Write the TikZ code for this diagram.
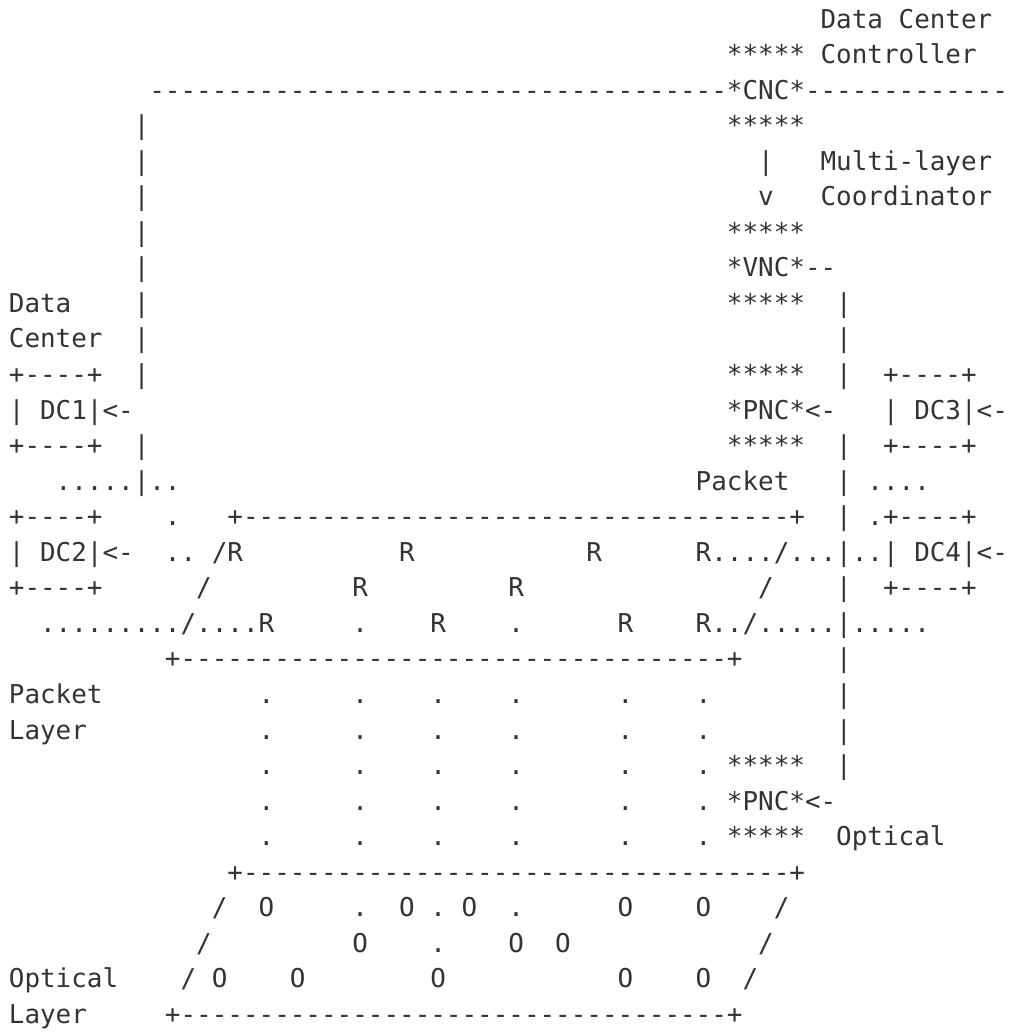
\documentclass[tikz,border=0pt]{standalone}
\usepackage{fontspec}
\setmonofont{DejaVu Sans Mono}
\ExplSyntaxOn
\cs_new:Npn \asciirun #1#2 { \prg_replicate:nn {#1} {#2} }
\ExplSyntaxOff
\tikzset{
    x=15.61pt, % one column of the character grid
    y=-35.55pt, % one text row, counted downwards
    ascii/.style={anchor=base west, inner sep=0pt, outer sep=0pt, text=black!80,
        font=\fontsize{25.93pt}{35.55pt}\selectfont\ttfamily}, % every piece of the drawing
}

\begin{document}
\begin{tikzpicture}
    \useasboundingbox (-0.570,-0.788) rectangle (64.196,28.242);
    % controller stack
    \node[ascii] (dcTitle) at (52,0) {Data Center};
    \node[ascii] (cncTop) at (46,1) {*****};
    \node[ascii] (ctrlLabel) at (52,1) {Controller};
    \node[ascii] (cncRuleL) at (9,2) {\asciirun{37}{-}};
    \node[ascii] (cnc) at (46,2) {*CNC*};
    \node[ascii] (cncRuleR) at (51,2) {\asciirun{13}{-}};
    \node[ascii] (cncBot) at (46,3) {*****};
    \node[ascii] (mlcShaft) at (48,4) {|};
    \node[ascii] (mlcLabelA) at (52,4) {Multi-layer};
    \node[ascii] (mlcHead) at (48,5) {v};
    \node[ascii] (mlcLabelB) at (52,5) {Coordinator};
    \node[ascii] (vncTop) at (46,6) {*****};
    \node[ascii] (vnc) at (46,7) {*VNC*--};
    \node[ascii] (vncBot) at (46,8) {*****};
    \node[ascii] (pncPTop) at (46,10) {*****};
    \node[ascii] (pncP) at (46,11) {*PNC*<-};
    \node[ascii] (pncPBot) at (46,12) {*****};
    % the two vertical trunks
    \foreach \r in {3,...,10,12}
        \node[ascii] (trunkL\r) at (8,\r) {|};
    \foreach \r in {8,9,10,12,13,14,16,18,19,20,21}
        \node[ascii] (trunkR\r) at (53,\r) {|};
    % data centers
    \node[ascii] (dcLabelA) at (0,8) {Data};
    \node[ascii] (dcLabelB) at (0,9) {Center};
    \node[ascii] (dc1Top) at (0,10) {+----+};
    \node[ascii] (dc1) at (0,11) {| DC1|<-};
    \node[ascii] (dc1Bot) at (0,12) {+----+};
    \node[ascii] (dc3Top) at (56,10) {+----+};
    \node[ascii] (dc3) at (56,11) {| DC3|<-};
    \node[ascii] (dc3Bot) at (56,12) {+----+};
    \node[ascii] (dc2Top) at (0,14) {+----+};
    \node[ascii] (dc2) at (0,15) {| DC2|<-};
    \node[ascii] (dc2Bot) at (0,16) {+----+};
    \node[ascii] (dc4Top) at (55,14) {.+----+};
    \node[ascii] (dc4) at (56,15) {| DC4|<-};
    \node[ascii] (dc4Bot) at (56,16) {+----+};
    % packet layer
    \node[ascii] (leakL) at (3,13) {.....|..};
    \node[ascii] (pktLabel) at (44,13) {Packet};
    \node[ascii] (leakR) at (55,13) {....};
    \node[ascii] (leakL2) at (10,14) {.};
    \node[ascii] (pktTop) at (14,14) {+\asciirun{35}{-}+};
    \node[ascii] (leakL3) at (10,15) {..};
    \node[ascii] (pktR1) at (13,15) {/R};
    \node[ascii] (pktR2) at (25,15) {R};
    \node[ascii] (pktR3) at (37,15) {R};
    \node[ascii] (pktR4) at (44,15) {R..../...|..};
    \node[ascii] (pktSideL) at (12,16) {/};
    \node[ascii] (pktR5) at (22,16) {R};
    \node[ascii] (pktR6) at (32,16) {R};
    \node[ascii] (pktSideR) at (48,16) {/};
    \node[ascii] (pktRowL) at (2,17) {........./....R};
    \node[ascii] (pktDotA) at (22,17) {.};
    \node[ascii] (pktR8) at (27,17) {R};
    \node[ascii] (pktDotB) at (32,17) {.};
    \node[ascii] (pktR9) at (39,17) {R};
    \node[ascii] (pktRowR) at (44,17) {R../.....|.....};
    \node[ascii] (pktBot) at (10,18) {+\asciirun{35}{-}+};
    \node[ascii] (pktLayerA) at (0,19) {Packet};
    \node[ascii] (pktLayerB) at (0,20) {Layer};
    % dotted links between the layers
    \foreach \c in {16,22,27,32,39,44}
        \foreach \r in {19,...,23}
            \node[ascii] (link\c-\r) at (\c,\r) {.};
    \node[ascii] (pncOTop) at (46,21) {*****};
    \node[ascii] (pncO) at (46,22) {*PNC*<-};
    \node[ascii] (pncOBot) at (46,23) {*****};
    \node[ascii] (optLabel) at (53,23) {Optical};
    % optical layer
    \node[ascii] (optTop) at (14,24) {+\asciirun{35}{-}+};
    \node[ascii] (optSideL1) at (13,25) {/};
    \node[ascii] (optO1) at (16,25) {O};
    \node[ascii] (optDot1) at (22,25) {.};
    \node[ascii] (optO2) at (25,25) {O};
    \node[ascii] (optDot2) at (27,25) {.};
    \node[ascii] (optO3) at (29,25) {O};
    \node[ascii] (optDot3) at (32,25) {.};
    \node[ascii] (optO4) at (39,25) {O};
    \node[ascii] (optO5) at (44,25) {O};
    \node[ascii] (optSideR1) at (49,25) {/};
    \node[ascii] (optSideL2) at (12,26) {/};
    \node[ascii] (optO6) at (22,26) {O};
    \node[ascii] (optDot4) at (27,26) {.};
    \node[ascii] (optO7) at (32,26) {O};
    \node[ascii] (optO8) at (35,26) {O};
    \node[ascii] (optSideR2) at (48,26) {/};
    \node[ascii] (optLayerA) at (0,27) {Optical};
    \node[ascii] (optSideL3) at (11,27) {/};
    \node[ascii] (optO9) at (13,27) {O};
    \node[ascii] (optO10) at (18,27) {O};
    \node[ascii] (optO11) at (27,27) {O};
    \node[ascii] (optO12) at (39,27) {O};
    \node[ascii] (optO13) at (44,27) {O};
    \node[ascii] (optSideR3) at (47,27) {/};
    \node[ascii] (optLayerB) at (0,28) {Layer};
    \node[ascii] (optBot) at (10,28) {+\asciirun{35}{-}+};
\end{tikzpicture}
\end{document}
